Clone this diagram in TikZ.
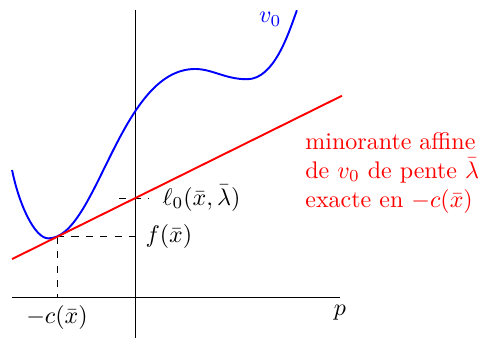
\documentclass[tikz,border=0pt]{standalone}
\usepackage{xcolor}
\usepackage{tikz}
\usetikzlibrary{positioning}
\tikzset{
  axe/.style={black, line width=0.4pt},
  courbe/.style={blue, thick},
  minor/.style={red, thick},
  repere/.style={dashed, line width=0.4pt}
}

\begin{document}
\begin{tikzpicture}
  \useasboundingbox (-1.977,-0.615) rectangle (5.08,4.35);
  % axes
  \coordinate (O) at (0,0);
  \coordinate (xmin) at (-1.8,0);
  \coordinate (xmax) at (3,0);
  \coordinate (ymin) at (0,-0.6);
  \coordinate (ymax) at (0,4.2);
  \draw[axe] (xmin) -- (xmax);
  \draw[axe] (ymin) -- (ymax);
  \node[below] (p) at (xmax) {$p$};

  % point de contact et reperes
  \coordinate (T) at (-1.142,0.883);
  \coordinate (Tx) at (-1.142,0);
  \coordinate (Ty) at (0,0.883);
  \coordinate (La) at (-0.234,1.448);
  \coordinate (Lb) at (0.19,1.448);
  \draw[repere] (T) -- (Tx);
  \draw[repere] (T) -- (Ty);
  \draw[repere] (La) -- (Lb);
  \node[below] (cx) at (Tx) {$-c(\bar x)$};
  \node[right] (fx) at (0.03,0.883) {$f(\bar x)$};
  \node[right] (l0) at (0.28,1.448) {$\ell_0(\bar x,\bar\lambda)$};

  % la fonction v_0
  \coordinate (S) at (-1.80,1.86);
  \coordinate (M1) at (-1.27,0.86);
  \coordinate (M2) at (0.88,3.34);
  \coordinate (M3) at (1.64,3.19);
  \coordinate (E) at (2.37,4.20);
  \draw[courbe] (S) .. controls (-1.70,1.36) and (-1.47,0.86) .. (M1)
    .. controls (-0.56,0.86) and (-0.23,3.34) .. (M2)
    .. controls (1.13,3.34) and (1.32,3.19) .. (M3)
    .. controls (2.04,3.19) and (2.25,3.87) .. (E);
  \node (v0) at (1.98,4.07) {\color{blue}$v_0$};

  % la minorante affine
  \coordinate (Ra) at (-1.8,0.557);
  \coordinate (Rb) at (3.03,2.948);
  \draw[minor] (Ra) -- (Rb);
  \node[right, align=left, red] (txt) at (2.37,1.82)
    {minorante affine\\ de $v_0$ de pente $\bar\lambda$\\ exacte en $-c(\bar x)$};
\end{tikzpicture}
\end{document}
